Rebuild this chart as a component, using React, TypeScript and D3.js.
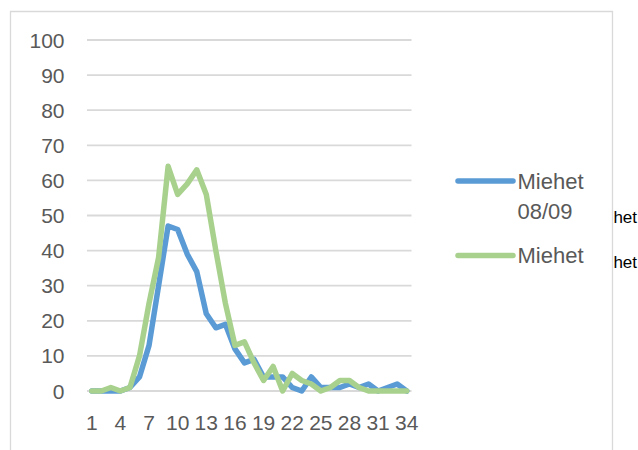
import React from "react";
import * as d3 from "d3";

const categories: string[] = Array.from({ length: 34 }, (_, i) => String(i + 1));
const tickLabels: string[] = ["1", "4", "7", "10", "13", "16", "19", "22", "25", "28", "31", "34"];
const yTicks: number[] = [0, 10, 20, 30, 40, 50, 60, 70, 80, 90, 100];

const miehet0809: number[] = [0, 0, 0, 0, 1, 4, 13, 30, 47, 46, 39, 34, 22, 18, 19, 12, 8, 9, 4, 4, 4, 1, 0, 4, 1, 1, 1, 2, 1, 2, 0, 1, 2, 0];
const miehet: number[] = [0, 0, 1, 0, 1, 10, 25, 38, 64, 56, 59, 63, 56, 40, 25, 13, 14, 8, 3, 7, 0, 5, 3, 2, 0, 1, 3, 3, 1, 0, 0, 0, 0, 0];

const seriesNames: string[][] = [["Miehet", "08/09"], ["Miehet"]];
const colors: string[] = ["#5B9BD5", "#A9D18E"];

const W = 638;
const H = 450;
const FONT = "'Liberation Sans', Arial, sans-serif";

export default function App() {
  const x = d3.scaleBand<string>().domain(categories).range([87, 411.5]);
  const y = d3.scaleLinear().domain([0, 100]).range([391, 40]);
  const cx = (i: number) => (x(categories[i]) as number) + x.bandwidth() / 2;
  const line = d3
    .line<number>()
    .x((_, i) => cx(i))
    .y((d) => y(d));

  const series = [miehet0809, miehet];

  return (
    <svg
      width={W}
      height={H}
      style={{ position: "absolute", left: 0, top: 0, background: "#fff" }}
    >
      <defs>
        <clipPath id="rightclip">
          <rect x={614} y={0} width={30} height={H} />
        </clipPath>
      </defs>
      <rect x={0} y={0} width={W} height={H} fill="#fff" />
      {/* outer frame */}
      <path
        d={`M10.5,${H + 2} V11.5 H612.5 V${H + 2}`}
        fill="none"
        stroke="#d9d9d9"
        strokeWidth={1.3}
      />
      {/* gridlines */}
      {yTicks.map((t) => (
        <line
          key={t}
          x1={87}
          x2={411.5}
          y1={y(t)}
          y2={y(t)}
          stroke="#d9d9d9"
          strokeWidth={1.8}
        />
      ))}
      {/* y labels */}
      {yTicks.map((t) => (
        <text
          key={"yl" + t}
          x={64.5}
          y={y(t) + 7.5}
          textAnchor="end"
          fontFamily={FONT}
          fontSize={21}
          fill="#595959"
        >
          {t}
        </text>
      ))}
      {/* x labels */}
      {tickLabels.map((c) => (
        <text
          key={"xl" + c}
          x={(x(c) as number) + x.bandwidth() / 2}
          y={430}
          textAnchor="middle"
          fontFamily={FONT}
          fontSize={21}
          fill="#595959"
        >
          {c}
        </text>
      ))}
      {/* lines */}
      {series.map((s, k) => (
        <path
          key={"s" + k}
          d={line(s) as string}
          fill="none"
          stroke={colors[k]}
          strokeWidth={5.5}
          strokeLinejoin="round"
          strokeLinecap="round"
        />
      ))}
      {/* legend */}
      {seriesNames.map((names, k) => {
        const ly = k === 0 ? 181 : 255.5;
        return (
          <g key={"lg" + k}>
            <line
              x1={458}
              x2={513}
              y1={ly}
              y2={ly}
              stroke={colors[k]}
              strokeWidth={5.5}
              strokeLinecap="round"
            />
            {names.map((n, j) => (
              <text
                key={j}
                x={517.5}
                y={ly + 7.5 + j * 30}
                fontFamily={FONT}
                fontSize={22}
                fill="#595959"
              >
                {n}
              </text>
            ))}
          </g>
        );
      })}
      {/* clipped fragments of neighbouring content */}
      <g clipPath="url(#rightclip)">
        <text x={586} y={222.7} fontFamily={FONT} fontSize={17} fill="#000">
          Miehet
        </text>
        <text x={586} y={267.5} fontFamily={FONT} fontSize={17} fill="#000">
          Miehet
        </text>
      </g>
    </svg>
  );
}
